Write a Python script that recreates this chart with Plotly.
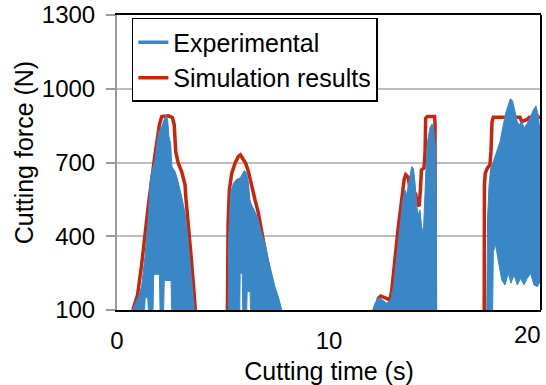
import plotly.graph_objects as go

# ---------------- data ----------------
# Simulation results (red line)
sim_t = [0, 0.70, 0.77, 0.97, 1.16, 1.48, 1.79, 2.00, 2.11, 2.42, 2.61, 2.70, 2.77, 2.89, 3.05,
         3.21, 3.25, 3.36, 3.49, 3.62, 3.71, 3.78,
         5.20, 5.21, 5.24, 5.30, 5.41, 5.57, 5.72, 5.82, 5.93, 6.07, 6.20, 6.35, 6.51, 6.67, 6.79,
         6.95, 7.15, 7.35, 7.55, 7.60,
         12.15, 12.22, 12.33, 12.44, 12.64, 12.88, 12.96, 13.11, 13.27, 13.43, 13.54, 13.62, 13.74,
         13.82, 13.98, 14.09, 14.17, 14.25, 14.31, 14.36, 14.48, 14.53, 14.56, 14.64, 14.98, 15.00,
         15.01,
         17.32, 17.33, 17.37, 17.47, 17.59, 17.64, 17.69, 17.75, 19.01, 19.09, 19.35, 19.45, 20.0]
sim_v = [0, 0, 107, 161, 283, 527, 731, 853, 887, 890, 883, 853, 744, 697, 663,
         609, 555, 459, 324, 188, 107, 0,
         0, 249, 453, 588, 656, 697, 724, 731, 717, 697, 663, 602, 548, 494, 432,
         360, 270, 190, 110, 0,
         0, 100, 148, 157, 148, 141, 181, 317, 439, 548, 629, 650, 640,
         591, 582, 572, 531, 523, 588, 670, 677, 738, 880, 887, 887, 860,
         0,
         0, 609, 656, 677, 690, 744, 866, 884, 884, 866, 875, 884, 884]

# Experimental signal (blue): upper and lower envelope of the oscillation, bursts separated by None
exp_hi_t = [0.72, 0.85, 1.01, 1.16, 1.32, 1.48, 1.56, 1.64, 1.79, 1.87, 1.95, 2.11, 2.22, 2.30, 2.39,
            2.45, 2.53, 2.59, 2.74, 2.86, 3.05, 3.21, 3.36, 3.52, 3.65, None,
            5.25, 5.26, 5.30, 5.36, 5.49, 5.65, 5.80, 5.93, 6.01, 6.12, 6.20, 6.27, 6.35, 6.51, 6.67,
            6.82, 6.98, 7.14, 7.30, 7.45, 7.61, 7.77, None,
            12.06, 12.17, 12.33, 12.48, 12.72, 12.91, 13.04, 13.19, 13.35, 13.48, 13.58, 13.66, 13.77,
            13.90, 13.98, 14.06, 14.14, 14.21, 14.29, 14.37, 14.45, 14.51, 14.58, 14.66, 14.76, 14.86,
            14.95, 15.03, 15.06, 15.08, None,
            17.44, 17.48, 17.55, 17.63, 17.75, 17.91, 18.07, 18.22, 18.33, 18.46, 18.55, 18.66, 18.76,
            18.88, 18.98, 19.09, 19.20, 19.33, 19.48, 19.64, 19.76, 19.87, 19.95, 20.0]
exp_hi_v = [100, 127, 154, 195, 317, 480, 616, 663, 710, 765, 819, 846, 880, 894, 873,
            805, 778, 683, 663, 629, 561, 494, 371, 236, 100, None,
            100, 385, 453, 575, 616, 632, 636, 656, 667, 656, 616, 548, 527, 500, 466,
            412, 371, 304, 249, 195, 154, 100, None,
            100, 127, 152, 144, 127, 141, 195, 304, 439, 548, 588, 568, 629,
            683, 677, 616, 521, 487, 507, 439, 412, 548, 683, 792, 840, 857,
            833, 751, 548, 100, None,
            100, 473, 609, 677, 704, 744, 785, 853, 900, 934, 959, 951, 907,
            866, 853, 869, 840, 856, 880, 914, 930, 894, 826, 820]
exp_lo_t = [0.72, 1.30, 1.33, 1.45, 1.48, 1.70, 1.73, 2.00, 2.03, 2.20, 2.23, 2.55, 2.58, 3.65, None,
            5.25, 5.79, 5.81, 5.91, 5.93, 6.12, 6.14, 6.28, 6.30, 7.77, None,
            12.06, 15.08, None,
            17.44, 17.72, 17.75, 17.86, 17.99, 18.15, 18.30, 18.46, 18.58, 18.73, 18.88, 19.04, 19.20,
            19.35, 19.51, 19.67, 19.83, 19.95, 20.0]
exp_lo_v = [100, 100, 150, 150, 100, 100, 245, 245, 100, 100, 220, 220, 100, 100, None,
            100, 100, 250, 250, 100, 100, 175, 175, 100, 100, None,
            100, 100, None,
            100, 100, 337, 365, 297, 222, 202, 249, 209, 242, 202, 229, 202,
            229, 249, 202, 195, 215, 215]

x_ticks = [0, 10, 20]
y_ticks = [100, 400, 700, 1000, 1300]

BLUE = "#3a87c8"
RED = "#c9250a"
FONT = "Liberation Sans, Arial, sans-serif"


def split(vals):
    segs, cur = [], []
    for v in vals:
        if v is None:
            segs.append(cur)
            cur = []
        else:
            cur.append(v)
    segs.append(cur)
    return segs


# build closed polygons: upper envelope forward, lower envelope backward
poly_x, poly_y = [], []
for ht, hv, lt, lv in zip(split(exp_hi_t), split(exp_hi_v), split(exp_lo_t), split(exp_lo_v)):
    if poly_x:
        poly_x.append(None)
        poly_y.append(None)
    poly_x += ht + lt[::-1]
    poly_y += hv + lv[::-1]

fig = go.Figure()

fig.add_trace(go.Scatter(x=sim_t, y=sim_v, mode="lines", name="Simulation results",
                         line=dict(color=RED, width=3.5), legendrank=2))
fig.add_trace(go.Scatter(x=poly_x, y=poly_y, mode="lines", fill="toself", fillcolor=BLUE,
                         line=dict(color=BLUE, width=1), showlegend=False, hoverinfo="skip"))
fig.add_trace(go.Scatter(x=[None], y=[None], mode="lines", name="Experimental",
                         line=dict(color=BLUE, width=3.5), legendrank=1))

fig.update_layout(
    width=546, height=385,
    margin=dict(l=117, r=5, t=15, b=75),
    paper_bgcolor="white", plot_bgcolor="white",
    font=dict(family=FONT, size=24, color="black"),
    showlegend=True,
    legend=dict(x=0.035, y=0.99, xanchor="left", yanchor="top",
                bgcolor="white", bordercolor="black", borderwidth=1.5,
                font=dict(family=FONT, size=25), itemwidth=30, tracegroupgap=0,
                entrywidth=220, entrywidthmode="pixels"),
    xaxis=dict(range=[0, 20], tickvals=x_ticks,
               ticktext=[str(v) for v in x_ticks[:-1]] + [""],
               showgrid=False, zeroline=False, ticks="", automargin=False,
               showline=True, linecolor="black", linewidth=2, mirror=True,
               ticklabelstandoff=8,
               title=dict(text="Cutting time (s)", font=dict(size=25), standoff=12)),
    yaxis=dict(range=[100, 1300], tickvals=y_ticks, showgrid=True, automargin=False,
               gridcolor="#bdbdbd", gridwidth=1.5, zeroline=False,
               ticks="outside", ticklen=9, tickcolor="#9a9a9a", tickwidth=1.5,
               showline=True, linecolor="#9a9a9a", linewidth=2,
               ticklabelstandoff=6),
    shapes=[dict(type="line", xref="paper", yref="paper", x0=1, x1=1, y0=0, y1=1,
                 line=dict(color="black", width=2))],
    annotations=[
        dict(text=str(x_ticks[-1]), xref="paper", yref="paper", x=1.0, y=0,
             xanchor="right", yanchor="top", yshift=-9, xshift=2,
             showarrow=False, font=dict(family=FONT, size=24)),
        dict(text="Cutting force (N)", xref="paper", yref="paper", x=-0.219, y=0.532,
             xanchor="center", yanchor="middle", textangle=-90,
             showarrow=False, font=dict(family=FONT, size=25)),
    ],
)

fig.write_html("out.html", post_script="document.body.style.margin='0';",
               config={"displayModeBar": False})
